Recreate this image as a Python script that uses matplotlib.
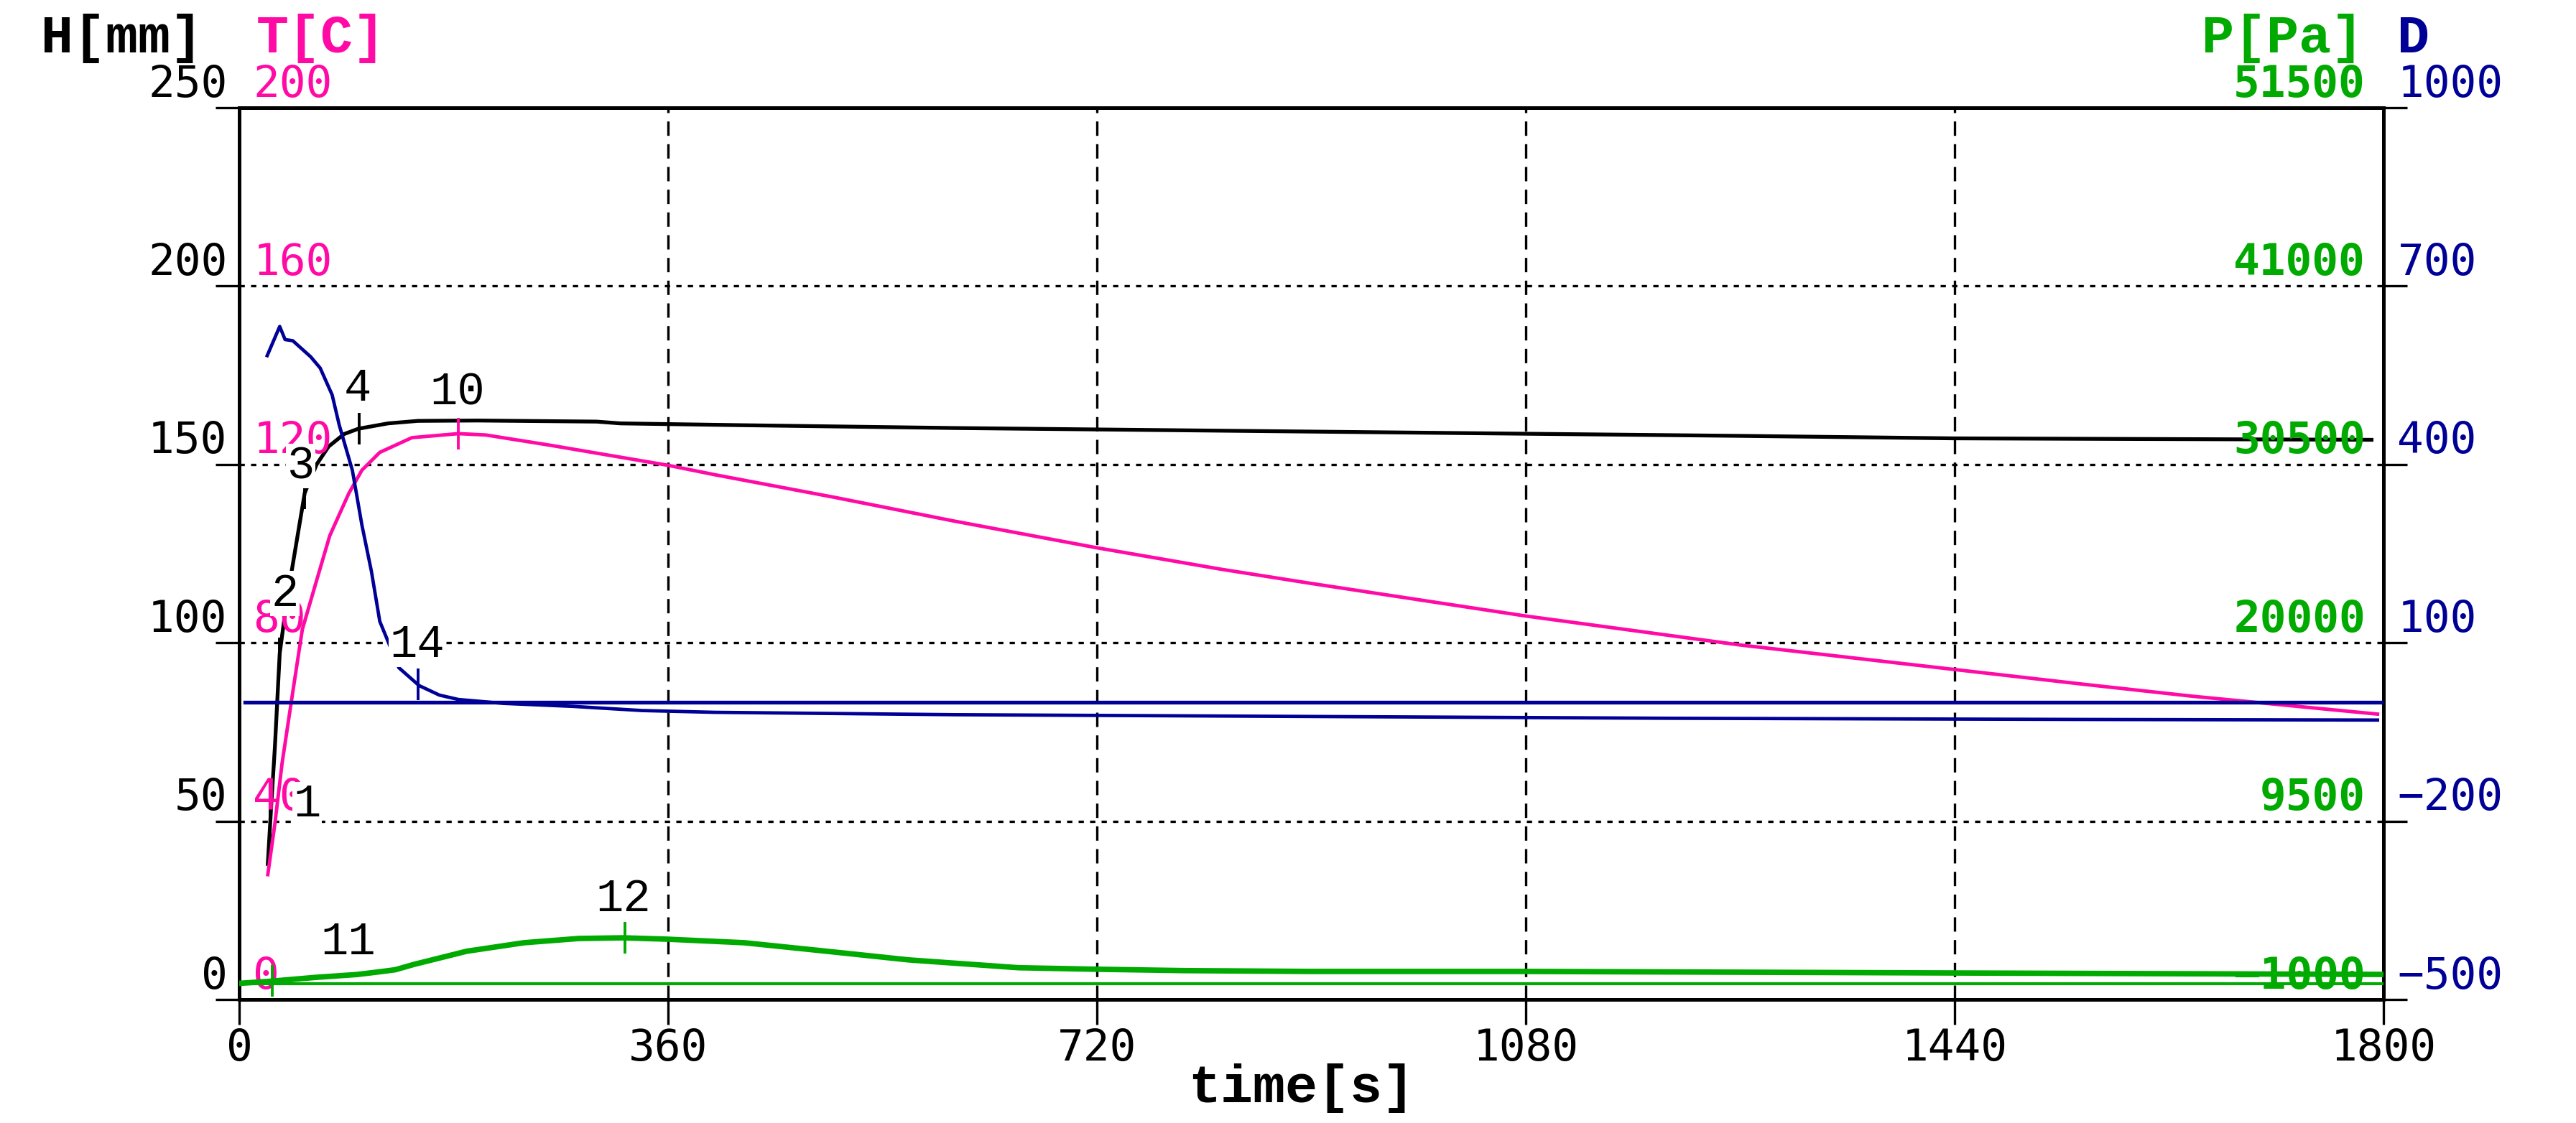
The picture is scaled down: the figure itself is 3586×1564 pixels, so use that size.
import numpy as np
import matplotlib.pyplot as plt

# ---- data ----
t_ticks = [0, 360, 720, 1080, 1440, 1800]

# H [mm], black, left scale
H_ticks = [0, 50, 100, 150, 200, 250]
t_H = [24, 27, 30, 34, 40, 45, 55, 65, 75, 88, 100, 125, 150, 200, 300,
       320, 420, 510, 600, 720, 900, 1080, 1260, 1440, 1620, 1790]
H = [38, 55, 71, 97, 112, 122, 142, 150, 155, 158.5, 160, 161.5, 162.2, 162.3, 162,
     161.5, 161, 160.6, 160.2, 159.8, 159.2, 158.6, 158, 157.3, 157.1, 156.9]

# T [C], magenta
T_ticks = [0, 40, 80, 120, 160, 200]
t_T = [24, 30, 36, 45, 53, 65, 76, 92, 103, 118, 145, 184, 207, 261, 338, 360,
       399, 500, 600, 720, 824, 900, 1080, 1260, 1440, 1548, 1640, 1795]
T = [28, 39.5, 53, 69, 83, 94, 104, 113.5, 118.7, 122.7, 126, 126.9, 126.6, 124.3, 120.8, 119.8,
     117.7, 112.6, 107.3, 101.3, 96.5, 93.3, 86, 79.5, 74, 70.7, 68, 64]

# P [Pa], green
P_ticks = [-1000, 9500, 20000, 30500, 41000, 51500]
t_P = [0, 24, 64, 99, 119, 131, 147, 191, 239, 285, 322, 359, 424, 493, 562,
       654, 719, 793, 900, 1080, 1440, 1800]
P = [-50, 60, 300, 470, 640, 750, 1070, 1840, 2340, 2590, 2630, 2550, 2340, 1840, 1330,
     870, 780, 700, 650, 650, 560, 475]
t_P0 = [0, 1800]
P0 = [-60, -60]

# D, navy
D_ticks = [-500, -200, 100, 400, 700, 1000]
t_D = [23.5, 34, 38.5, 45, 60, 68, 78, 84, 95, 103, 111, 118, 134, 151, 168, 184,
       222, 280, 338, 399, 600, 900, 1200, 1548, 1795]
D = [583, 632, 610, 608, 581, 562, 517, 466, 390, 298, 220, 136, 58, 28, 12, 4.6,
     -2, -7, -14, -17, -21, -24, -27, -29, -30]
t_D0 = [5, 1800]
D0 = [0, 0]

# numbered points: label, series, time
marks = [("1", "H", 26), ("2", "H", 34), ("3", "H", 55), ("4", "H", 101),
         ("10", "T", 184), ("11", "P", 28), ("12", "P", 324), ("14", "D", 150)]
mark_offsets = {"1": (37, 19), "2": (5, 60), "3": (-4, 27), "4": (-2, 40),
                "10": (-1, 41), "11": (76, 39), "12": (-2, 39), "14": (-1, 40)}

BLACK = "#000000"
MAGENTA = "#ff0aa5"
GREEN = "#00aa00"
NAVY = "#000096"
MONO = "DejaVu Sans Mono"
COUR = "Liberation Mono"
FS = 44

fig = plt.figure(figsize=(35.86, 15.64), dpi=100)
ax = fig.add_axes([0.09286, 0.110, 0.8324, 0.7941])
axT = ax.twinx()
axP = ax.twinx()
axD = ax.twinx()

ax.set_xlim(0, 1800)
ax.set_ylim(0, 250)
axT.set_ylim(0, 200)
axP.set_ylim(-1000, 51500)
axD.set_ylim(-500, 1000)

for a in (axT, axP, axD):
    a.set_yticks([])
    for s in a.spines.values():
        s.set_visible(False)

for s in ax.spines.values():
    s.set_linewidth(3.6)

ax.set_xticks(t_ticks)
ax.set_yticks(H_ticks)
ax.tick_params(axis="x", direction="out", length=25, width=2.4, pad=3,
               labelsize=FS)
ax.tick_params(axis="y", direction="out", length=24, width=2.4,
               left=True, right=True, labelleft=False, labelright=False)
for lab in ax.get_xticklabels():
    lab.set_fontfamily(MONO)

ax.grid(axis="y", color="k", lw=2.4, linestyle=(0, (2.2, 2.6)))
ax.grid(axis="x", color="k", lw=2.4, linestyle=(0, (6, 3.5)))

# curves
ax.plot(t_H, H, color=BLACK, lw=3.8)
axT.plot(t_T, T, color=MAGENTA, lw=3.5)
axP.plot(t_P0, P0, color=GREEN, lw=3.0)
axP.plot(t_P, P, color=GREEN, lw=5.5)
axD.plot(t_D0, D0, color=NAVY, lw=3.8)
axD.plot(t_D, D, color=NAVY, lw=3.4)

# scale labels
for h in H_ticks:
    ax.annotate(str(h), xy=(0, h), xycoords=ax.get_yaxis_transform(),
                xytext=(-12, 11), textcoords="offset points", ha="right",
                va="baseline", fontsize=FS, family=MONO, color=BLACK,
                annotation_clip=False)
for v in T_ticks:
    axT.annotate(str(v), xy=(0, v), xycoords=axT.get_yaxis_transform(),
                 xytext=(14, 11), textcoords="offset points", ha="left",
                 va="baseline", fontsize=FS, family=MONO, color=MAGENTA,
                 annotation_clip=False, zorder=1)
for v in P_ticks:
    axP.annotate(str(v).replace("-", "\u2212"), xy=(1, v),
                 xycoords=axP.get_yaxis_transform(), xytext=(-18, 11),
                 textcoords="offset points", ha="right", va="baseline",
                 fontsize=FS, family=MONO, weight="bold", color=GREEN,
                 annotation_clip=False, zorder=1)
for v in D_ticks:
    axD.annotate(str(v).replace("-", "\u2212"), xy=(1, v),
                 xycoords=axD.get_yaxis_transform(), xytext=(14, 11),
                 textcoords="offset points", ha="left", va="baseline",
                 fontsize=FS, family=MONO, color=NAVY, annotation_clip=False)

# numbered points
series = {"H": (ax, t_H, H, BLACK), "T": (axT, t_T, T, MAGENTA),
          "P": (axP, t_P, P, GREEN), "D": (axD, t_D, D, NAVY)}
for lab, key, t in marks:
    a, ts, ys, col = series[key]
    y = np.interp(t, ts, ys)
    a.plot([t], [y], marker="|", markersize=32, markeredgewidth=2.8, color=col)
    axD.annotate(lab, xy=(t, y), xycoords=a.transData,
                 xytext=mark_offsets[lab], textcoords="offset points",
                 ha="center", va="center", fontsize=46, family=COUR,
                 color=BLACK, zorder=5,
                 bbox=dict(facecolor="white", edgecolor="none", pad=1))

# headers and axis title
fig.text(57 / 3586, 0.9533, "H[mm]", family=COUR, weight="bold", fontsize=54,
         color=BLACK, va="baseline", ha="left")
fig.text(357 / 3586, 0.9533, "T[C]", family=COUR, weight="bold", fontsize=54,
         color=MAGENTA, va="baseline", ha="left")
fig.text(3290 / 3586, 0.9533, "P[Pa]", family=COUR, weight="bold", fontsize=54,
         color=GREEN, va="baseline", ha="right")
fig.text(3337 / 3586, 0.9533, "D", family=COUR, weight="bold", fontsize=54,
         color=NAVY, va="baseline", ha="left")
fig.text(1812 / 3586, 0.0185, "time[s]", family=COUR, weight="bold", fontsize=54,
         color=BLACK, va="baseline", ha="center")

fig.savefig("out.png", dpi=100, facecolor="white")
